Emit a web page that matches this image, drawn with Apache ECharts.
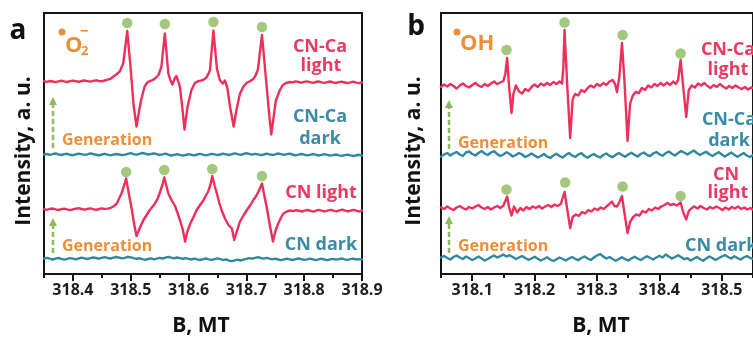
<!DOCTYPE html>
<html>
<head>
<meta charset="utf-8">
<script src="https://cdn.jsdelivr.net/npm/echarts@6/dist/echarts.min.js"></script>
<style>
  html, body { margin: 0; padding: 0; background: #ffffff; }
  #chart { width: 753px; height: 338px; }
</style>
</head>
<body>
<div id="chart"></div>
<script>
// ---------- EPR spectra: (a) DMPO-•O2− adducts, (b) DMPO-•OH adducts ----------

// Field sample grid of the dark (noise-only) sweeps, panel a (mT)
const fieldA = [
  318.350,318.355,318.360,318.365,318.370,318.375,318.380,318.385,318.390,318.395,
  318.400,318.405,318.410,318.415,318.420,318.425,318.430,318.435,318.440,318.445,
  318.450,318.455,318.460,318.465,318.470,318.475,318.480,318.485,318.490,318.495,
  318.500,318.505,318.510,318.515,318.520,318.525,318.530,318.535,318.540,318.545,
  318.550,318.555,318.560,318.565,318.570,318.575,318.580,318.585,318.590,318.595,
  318.600,318.605,318.610,318.615,318.620,318.625,318.630,318.635,318.640,318.645,
  318.650,318.655,318.660,318.665,318.670,318.675,318.680,318.685,318.690,318.695,
  318.700,318.705,318.710,318.715,318.720,318.725,318.730,318.735,318.740,318.745,
  318.750,318.755,318.760,318.765,318.770,318.775,318.780,318.785,318.790,318.795,
  318.800,318.805,318.810,318.815,318.820,318.825,318.830,318.835,318.840,318.845,
  318.850,318.855,318.860,318.865,318.870,318.875,318.880,318.885,318.890,318.895,
  318.900
];

// Field sample grid of the dark sweeps, panel b (mT)
const fieldB = [
  318.050,318.055,318.060,318.065,318.070,318.075,318.080,318.085,318.090,318.095,
  318.100,318.105,318.110,318.115,318.120,318.125,318.130,318.135,318.140,318.145,
  318.150,318.155,318.160,318.165,318.170,318.175,318.180,318.185,318.190,318.195,
  318.200,318.205,318.210,318.215,318.220,318.225,318.230,318.235,318.240,318.245,
  318.250,318.255,318.260,318.265,318.270,318.275,318.280,318.285,318.290,318.295,
  318.300,318.305,318.310,318.315,318.320,318.325,318.330,318.335,318.340,318.345,
  318.350,318.355,318.360,318.365,318.370,318.375,318.380,318.385,318.390,318.395,
  318.400,318.405,318.410,318.415,318.420,318.425,318.430,318.435,318.440,318.445,
  318.450,318.455,318.460,318.465,318.470,318.475,318.480,318.485,318.490,318.495,
  318.500,318.505,318.510,318.515,318.520,318.525,318.530,318.535,318.540,318.545,
  318.550
];

// Panel a — CN-Ca light: [B, intensity]
const caLightA = [
  [318.350,0.3],[318.355,-0.4],[318.360,0.5],[318.365,0.0],[318.370,-0.6],[318.375,0.2],[318.380,0.8],[318.385,0.1],
  [318.390,-0.5],[318.395,0.3],[318.400,0.9],[318.405,0.2],[318.410,-0.3],[318.415,0.5],[318.420,1.0],[318.425,0.4],
  [318.430,-0.2],[318.435,0.6],[318.440,1.2],[318.445,0.5],[318.450,0.2],[318.455,1.0],[318.460,1.8],[318.465,2.6],
  [318.469,4.5],[318.475,7.0],[318.481,10.0],[318.487,18.0],[318.494,50.5],[318.500,12.0],[318.505,-24.0],[318.510,-45.0],
  [318.514,-31.0],[318.518,-18.5],[318.524,-5.0],[318.529,-0.8],[318.533,0.4],[318.538,1.5],[318.543,3.5],[318.548,6.5],
  [318.553,14.5],[318.559,48.0],[318.565,8.0],[318.569,0.5],[318.572,-3.0],[318.576,3.0],[318.579,5.5],[318.582,0.5],
  [318.585,-5.0],[318.589,-25.0],[318.593,-48.0],[318.598,-26.0],[318.605,-8.5],[318.611,-1.5],[318.616,0.3],[318.621,0.8],
  [318.626,1.8],[318.631,4.0],[318.637,11.0],[318.643,51.0],[318.649,13.0],[318.654,1.5],[318.659,-2.0],[318.663,1.0],
  [318.667,-6.0],[318.672,-26.0],[318.678,-45.0],[318.683,-28.0],[318.689,-12.0],[318.695,-5.0],[318.701,-1.0],[318.706,0.2],
  [318.711,2.0],[318.715,5.0],[318.720,12.0],[318.727,46.5],[318.734,2.0],[318.739,-30.0],[318.743,-53.0],[318.747,-36.0],
  [318.751,-19.0],[318.758,-8.5],[318.763,-3.5],[318.769,-1.5],[318.775,-0.5],[318.780,-0.9],[318.785,0.1],[318.790,-0.5],
  [318.795,-1.2],[318.800,-0.4],[318.805,0.2],[318.810,-0.6],[318.815,-1.3],[318.820,-0.5],[318.825,0.1],[318.830,-0.8],
  [318.835,-1.4],[318.840,-0.6],[318.845,0.0],[318.850,-0.9],[318.855,-1.5],[318.860,-0.7],[318.865,-0.1],[318.870,-1.0],
  [318.875,-1.6],[318.880,-0.8],[318.885,-0.2],[318.890,-1.1],[318.895,-1.7],[318.900,-1.0]
];

// Panel a — CN-Ca dark: intensity on fieldA
const caDarkA = [
  0.5, 1.0, 0.2, 0.8, 1.5, 0.6, 0.0, 0.9, 1.2, 0.3,
  -0.2, 0.6, 1.4, 0.8, 0.1, 0.7, 1.6, 1.0, 0.2, -0.3,
  0.5, 1.2, 0.4, -0.4, 0.3, 1.0, 0.5, -0.2, 0.4, 1.1,
  1.8, 0.9, 0.3, 1.2, 2.0, 1.3, 0.5, 1.0, 1.7, 0.8,
  0.0, 0.6, 1.3, 0.4, -0.5, 0.2, 0.9, 0.1, -0.6, 0.0,
  0.8, 0.2, -0.4, 0.5, 1.1, 0.3, -0.3, 0.4, 1.2, 0.6,
  -0.1, 0.5, 1.4, 0.7, 0.0, 0.9, 1.6, 0.8, 0.2, 1.0,
  1.9, 1.1, 0.4, 1.2, 0.6, -0.2, 0.5, 1.3, 0.7, 0.0,
  0.6, 1.5, 0.9, 0.1, 0.8, 1.4, 0.5, -0.3, 0.3, 1.0,
  0.4, -0.4, 0.2, 0.9, 0.3, -0.5, 0.1, 0.8, 0.2, -0.6,
  -0.1, 0.5, -0.3, -0.9, -0.2, 0.4, -0.4, -1.0, -0.3, 0.2,
  -0.5
];

// Panel a — CN light: [B, intensity]
const cnLightA = [
  [318.350,0.4],[318.355,-0.3],[318.360,0.6],[318.365,1.0],[318.370,0.2],[318.375,-0.5],[318.380,0.3],[318.385,0.9],
  [318.390,0.1],[318.395,-0.6],[318.400,0.2],[318.405,0.8],[318.410,1.3],[318.415,0.5],[318.420,-0.2],[318.425,0.6],
  [318.430,1.2],[318.435,0.4],[318.440,-0.3],[318.445,0.5],[318.450,1.1],[318.455,0.6],[318.460,0.9],[318.464,1.2],
  [318.470,3.0],[318.476,6.0],[318.484,16.0],[318.488,23.0],[318.492,31.0],[318.497,15.0],[318.502,-0.5],[318.506,-15.0],
  [318.510,-26.5],[318.516,-18.0],[318.522,-10.5],[318.528,-5.0],[318.533,-0.5],[318.538,3.0],[318.542,6.0],[318.547,11.5],
  [318.551,18.0],[318.555,25.0],[318.558,32.0],[318.562,23.0],[318.565,16.0],[318.571,9.0],[318.577,3.0],[318.581,-3.5],
  [318.585,-10.5],[318.590,-20.0],[318.594,-32.0],[318.598,-22.0],[318.603,-14.0],[318.609,-7.0],[318.614,-0.5],[318.620,4.5],
  [318.626,9.5],[318.630,14.0],[318.634,18.0],[318.638,25.0],[318.641,33.5],[318.645,24.0],[318.649,16.0],[318.653,7.0],
  [318.657,-0.5],[318.663,-9.0],[318.669,-15.5],[318.675,-19.0],[318.679,-30.5],[318.684,-21.0],[318.689,-12.0],[318.695,-6.0],
  [318.701,-0.5],[318.707,4.5],[318.712,9.5],[318.717,13.5],[318.721,18.0],[318.727,26.0],[318.731,14.0],[318.735,3.0],
  [318.741,-17.0],[318.746,-32.0],[318.750,-22.0],[318.755,-14.0],[318.760,-8.0],[318.764,-4.0],[318.770,-2.0],[318.776,-1.0],
  [318.781,-1.6],[318.786,-0.7],[318.791,-1.2],[318.796,-2.0],[318.801,-1.1],[318.806,-0.5],[318.811,-1.4],[318.816,-2.1],
  [318.821,-1.0],[318.826,-0.4],[318.831,-1.3],[318.836,-2.0],[318.841,-0.9],[318.846,-0.3],[318.851,-1.2],[318.856,-1.8],
  [318.861,-0.8],[318.866,-0.2],[318.871,-1.1],[318.876,-1.9],[318.881,-1.0],[318.886,-0.4],[318.891,-1.3],[318.896,-2.0],
  [318.900,-1.1]
];

// Panel a — CN dark: intensity on fieldA
const cnDarkA = [
  0.5, 1.2, 0.3, -0.5, 0.4, 1.0, 0.2, -0.6, 0.1, 0.9,
  0.4, -0.3, 0.6, 1.3, 0.7, 0.0, 0.8, 1.5, 1.0, 0.3,
  1.1, 1.8, 1.2, 0.5, 1.3, 2.0, 1.4, 0.6, 1.2, 2.2,
  1.6, 0.8, 0.2, 0.7, -0.2, -0.8, 0.0, 0.6, -0.3, 0.4,
  1.2, 0.5, 1.4, 2.1, 1.3, 0.6, 1.5, 0.8, 0.1, 0.9,
  0.2, -0.5, 0.3, -0.4, -1.0, -0.2, 0.5, -0.3, -0.9, -0.1,
  0.6, -0.2, -1.1, -0.4, -1.6, -2.2, -1.3, -0.6, -1.5, -0.7,
  0.2, 0.9, 0.3, 1.2, 1.8, 1.0, 0.4, 1.1, 0.3, -0.4,
  0.3, -0.5, -1.2, -0.4, 0.4, -0.3, -1.0, -0.2, 0.5, -0.2,
  -0.9, -0.3, 0.4, -0.4, -1.1, -0.3, 0.3, -0.5, -1.2, -0.4,
  0.2, -0.6, -0.1, 0.5, -0.3, -0.9, -0.2, 0.4, -0.5, -0.1,
  -0.4
];

// Panel b — CN-Ca light: [B, intensity]
const caLightB = [
  [318.050,-1.0],[318.055,1.5],[318.060,-0.5],[318.065,2.0],[318.070,0.0],[318.075,-2.5],[318.080,0.5],[318.085,2.5],
  [318.090,0.0],[318.095,-1.5],[318.100,1.0],[318.105,3.0],[318.110,0.5],[318.115,-1.0],[318.120,2.0],[318.125,0.0],
  [318.130,2.5],[318.135,4.5],[318.140,2.0],[318.145,3.5],[318.150,5.0],[318.153,12.0],[318.156,28.0],[318.159,0.0],
  [318.163,-27.0],[318.166,-8.0],[318.170,0.5],[318.175,-5.5],[318.180,-7.5],[318.185,-3.0],[318.190,-5.0],[318.195,-1.0],
  [318.200,1.5],[318.205,-1.0],[318.210,2.5],[318.215,0.5],[318.220,3.0],[318.225,1.0],[318.230,4.0],[318.235,2.0],
  [318.240,4.5],[318.244,2.5],[318.246,18.0],[318.248,56.0],[318.252,4.0],[318.257,-52.0],[318.261,-13.0],[318.265,-8.0],
  [318.270,-9.5],[318.275,-4.0],[318.280,-6.0],[318.285,-2.0],[318.290,0.5],[318.295,-1.5],[318.300,2.0],[318.305,0.0],
  [318.310,3.0],[318.315,1.0],[318.320,4.5],[318.325,6.0],[318.329,2.0],[318.332,-6.0],[318.336,10.0],[318.340,43.0],
  [318.344,5.0],[318.349,-55.0],[318.353,-18.0],[318.357,-10.0],[318.362,-6.0],[318.367,-7.0],[318.372,-2.0],[318.377,-4.0],
  [318.382,0.5],[318.387,-1.5],[318.392,2.0],[318.397,0.0],[318.402,3.0],[318.407,0.5],[318.412,3.5],[318.417,1.0],
  [318.422,4.5],[318.426,2.0],[318.430,6.0],[318.434,26.0],[318.438,0.0],[318.443,-31.0],[318.447,-4.0],[318.452,0.5],
  [318.457,-1.5],[318.462,2.5],[318.467,0.5],[318.472,3.0],[318.477,0.0],[318.482,-2.0],[318.487,1.0],[318.492,-1.0],
  [318.497,2.0],[318.502,-0.5],[318.507,-2.5],[318.512,0.0],[318.517,-2.0],[318.522,0.5],[318.527,-1.5],[318.532,-3.0],
  [318.537,-1.0],[318.542,-3.5],[318.547,-1.5],[318.552,-2.5]
];

// Panel b — CN-Ca dark: intensity on fieldB
const caDarkB = [
  -1.5, 0.5, 2.0, -0.5, 1.5, 3.0, 0.5, -1.0, 2.5, 3.5,
  1.0, -0.5, 2.0, 4.0, 1.5, 0.0, 2.5, 3.8, 1.0, -1.0,
  0.5, 2.8, 1.0, -1.5, 0.0, 2.0, 0.5, -2.0, -0.5, 1.5,
  -0.5, -2.5, -1.0, 1.0, -1.5, -3.0, -0.5, 1.2, -1.0, -2.5,
  0.0, 2.0, -0.5, -2.0, 0.5, 1.8, -1.0, -2.8, -0.5, 1.0,
  -1.2, -2.5, 0.0, 1.5, -0.8, -2.2, 0.2, 2.0, 0.0, -1.8,
  0.5, 2.2, 0.3, -1.5, 1.0, 2.5, 0.2, -1.2, 1.5, 3.0,
  0.8, -0.8, 1.8, 3.5, 1.2, -0.5, 2.0, 4.0, 2.2, 0.5,
  2.5, 4.5, 2.0, 0.0, 1.8, 3.2, 0.8, -1.0, 1.0, 2.8,
  0.5, -1.5, 0.5, 2.5, 0.2, -1.8, 0.0, 2.0, -0.5, -2.0,
  0.0
];

// Panel b — CN light: [B, intensity]
const cnLightB = [
  [318.050,0.5],[318.055,-1.0],[318.060,1.5],[318.065,-0.5],[318.070,-2.0],[318.075,0.5],[318.080,2.0],[318.085,0.0],
  [318.090,-1.5],[318.095,1.0],[318.100,-0.5],[318.105,1.5],[318.110,3.0],[318.115,0.5],[318.120,-1.0],[318.125,1.0],
  [318.130,-1.5],[318.135,0.5],[318.140,2.0],[318.145,0.0],[318.150,2.5],[318.153,4.0],[318.156,11.5],[318.159,1.0],
  [318.163,-7.5],[318.167,1.5],[318.172,-4.5],[318.177,0.0],[318.182,-2.5],[318.187,1.0],[318.192,-1.0],[318.197,1.5],
  [318.202,0.0],[318.207,2.0],[318.212,-0.5],[318.217,1.5],[318.222,3.0],[318.227,1.0],[318.232,3.5],[318.237,2.0],
  [318.242,4.0],[318.245,6.0],[318.248,16.0],[318.252,0.0],[318.257,-20.0],[318.261,-9.0],[318.266,-6.5],[318.271,-8.0],
  [318.276,-4.0],[318.281,-5.5],[318.286,-2.0],[318.291,-3.5],[318.296,-0.5],[318.301,-2.0],[318.306,0.5],[318.311,-1.0],
  [318.316,2.0],[318.320,4.0],[318.324,6.5],[318.328,2.0],[318.332,1.5],[318.336,6.0],[318.340,12.0],[318.344,-5.0],
  [318.349,-25.0],[318.353,-14.0],[318.358,-9.0],[318.363,-6.5],[318.368,-7.5],[318.373,-3.0],[318.378,-4.5],[318.383,-1.0],
  [318.388,-2.5],[318.393,0.5],[318.398,-1.0],[318.403,1.5],[318.408,3.0],[318.413,5.0],[318.418,3.0],[318.423,4.0],
  [318.428,2.5],[318.431,3.5],[318.434,5.5],[318.438,-4.0],[318.443,-11.5],[318.447,-3.0],[318.451,-0.5],[318.456,1.5],
  [318.461,-0.5],[318.466,2.0],[318.471,0.0],[318.476,-1.5],[318.481,1.0],[318.486,-0.5],[318.491,1.5],[318.496,0.0],
  [318.501,-2.0],[318.506,0.5],[318.511,-1.5],[318.516,1.0],[318.521,-0.5],[318.526,1.5],[318.531,-1.0],[318.536,0.5],
  [318.541,-1.5],[318.546,0.0],[318.551,-2.0]
];

// Panel b — CN dark: intensity on fieldB
const cnDarkB = [
  0.5, 2.0, 0.0, -1.5, 1.0, 2.5, 0.5, -1.0, 1.5, 0.0,
  -2.0, -0.5, 1.5, -0.5, -2.5, -1.0, 1.0, 2.5, 0.5, 1.8,
  3.5, 1.5, 2.8, 1.0, -1.0, 0.5, 2.0, 0.0, -1.8, -0.5,
  1.2, -0.8, -2.5, -1.0, 0.8, -1.5, -3.0, -1.2, 0.5, -1.0,
  -2.5, -0.5, 1.0, -0.8, -2.2, 0.0, 1.5, -0.5, -2.0, 0.5,
  2.5, 4.0, 1.5, -0.5, 1.0, -1.0, -2.8, -1.0, 0.8, -1.2,
  -2.5, -0.5, 1.2, -0.5, -2.0, 0.0, 1.8, 0.2, -1.5, 0.5,
  2.2, 0.5, 3.5, 1.5, -0.5, 1.0, 2.8, 0.8, -1.2, -0.2,
  -2.5, -0.8, 1.0, -1.0, -2.8, -0.5, 1.5, 0.0, -2.0, -0.2,
  1.5, 3.0, 1.0, -0.5, 1.8, 0.0, -1.5, 0.5, 2.0, 0.2,
  -1.0
];

// Peak markers (green dots) above each adduct line: [B, intensity]
const peaksCaLightA = [[318.494, 58.5], [318.559, 57.5], [318.643, 59.5], [318.727, 54.5]];
const peaksCnLightA = [[318.492, 37.5], [318.558, 39.5], [318.641, 40.5], [318.727, 33.5]];
const peaksCaLightB = [[318.155, 36.0], [318.248, 63.5], [318.341, 51.0], [318.434, 32.5]];
const peaksCnLightB = [[318.155, 18.5], [318.249, 25.5], [318.341, 21.5], [318.434, 12.0]];

// Axis ticks (mT)
const labelTicksA = [318.4, 318.5, 318.6, 318.7, 318.8, 318.9];
const minorTicksA = [318.35, 318.45, 318.55, 318.65, 318.75, 318.85];
const labelTicksB = [318.1, 318.2, 318.3, 318.4, 318.5];
const minorTicksB = [318.05, 318.15, 318.25, 318.35, 318.45, 318.55];

// ---------- layout & style ----------
const RED = '#ee2f5c';
const TEAL = '#2f87a0';
const GREEN = '#8cba5c';
const ORANGE = '#ef8e38';
const RED_TXT = '#e93a62';
const TEAL_TXT = '#3b8ba3';
const INK = '#151515';
const FONT = '"Open Sans", "Noto Sans", sans-serif';

// vertical stacking offsets of each sweep (axis units)
const stackA = { caLight: 192.5, caDark: 119, cnLight: 64.5, cnDark: 15 };
const stackB = { caLight: 188, caDark: 119, cnLight: 66, cnDark: 16 };

const shift = (pairs, off) => pairs.map(p => [p[0], p[1] + off]);
const onField = (field, vals, off) => field.map((b, i) => [b, vals[i] + off]);

function mainX(gridIndex, min, max, ticks) {
  return {
    type: 'value', gridIndex, min, max, position: 'bottom',
    axisLine: { show: true, onZero: false, lineStyle: { color: INK, width: 2 } },
    axisTick: { show: true, customValues: ticks, length: 7, lineStyle: { color: INK, width: 2 } },
    axisLabel: {
      show: true, customValues: ticks, formatter: v => v.toFixed(1), margin: 8,
      color: '#1e1e1e', fontSize: 16, fontWeight: 'bold', fontFamily: FONT
    },
    splitLine: { show: false }
  };
}
function minorX(gridIndex, min, max, ticks) {
  return {
    type: 'value', gridIndex, min, max, position: 'bottom',
    axisLine: { show: false },
    axisTick: { show: true, customValues: ticks, length: 4, lineStyle: { color: INK, width: 2 } },
    axisLabel: { show: false },
    splitLine: { show: false }
  };
}
function plainY(gridIndex) {
  return {
    type: 'value', gridIndex, min: 0, max: 261,
    axisLine: { show: true, onZero: false, lineStyle: { color: INK, width: 2 } },
    axisTick: { show: false }, axisLabel: { show: false }, splitLine: { show: false }
  };
}
function trace(xi, data, color) {
  return {
    type: 'line', xAxisIndex: xi, yAxisIndex: xi, data, symbol: 'none',
    lineStyle: { color, width: 2.4, join: 'round', cap: 'round' }, silent: true, z: 3
  };
}
function dots(xi, data) {
  return {
    type: 'scatter', xAxisIndex: xi, yAxisIndex: xi, data, symbolSize: 10.5,
    itemStyle: { color: GREEN }, silent: true, z: 4
  };
}

function txt(text, x, y, fill, size, align) {
  return {
    type: 'text', x, y, z: 10,
    style: {
      text, fill, font: 'bold ' + size + 'px ' + FONT,
      textAlign: align || 'center', verticalAlign: 'middle'
    }
  };
}
function arrow(x, yTop, yBottom) {
  return [
    { type: 'line', z: 10, shape: { x1: x, y1: yBottom, x2: x, y2: yTop + 6 },
      style: { stroke: GREEN, lineWidth: 2.5, lineDash: [5, 3] } },
    { type: 'polygon', z: 10, shape: { points: [[x - 4, yTop + 8], [x + 4, yTop + 8], [x, yTop]] },
      style: { fill: GREEN } }
  ];
}

const graphics = [
  // panel letters
  txt('a', 18, 31, '#111', 28),
  txt('b', 416, 27, '#111', 28),
  // y titles
  { type: 'text', x: 24, y: 151, rotation: Math.PI / 2, z: 10,
    style: { text: 'Intensity, a. u.', fill: '#111', font: 'bold 21px ' + FONT, textAlign: 'center', verticalAlign: 'middle' } },
  { type: 'text', x: 414, y: 151, rotation: Math.PI / 2, z: 10,
    style: { text: 'Intensity, a. u.', fill: '#111', font: 'bold 21px ' + FONT, textAlign: 'center', verticalAlign: 'middle' } },
  // x titles
  txt('B, MT', 201, 326, '#111', 21),
  txt('B, MT', 601, 326, '#111', 21),
  // radical species: •O2−
  { type: 'circle', z: 10, shape: { cx: 62, cy: 32, r: 3.5 }, style: { fill: ORANGE } },
  txt('O', 65, 46, ORANGE, 22, 'left'),
  txt('2', 81, 51, ORANGE, 13, 'left'),
  txt('\u2212', 80, 32, ORANGE, 15, 'left'),
  // radical species: •OH
  { type: 'circle', z: 10, shape: { cx: 457, cy: 32, r: 3.5 }, style: { fill: ORANGE } },
  txt('OH', 460, 44, ORANGE, 22, 'left'),
  // sample labels, panel a
  txt('CN-Ca', 320, 47, RED_TXT, 18), txt('light', 321, 66, RED_TXT, 18),
  txt('CN-Ca', 320, 117, TEAL_TXT, 18), txt('dark', 320, 139, TEAL_TXT, 18),
  txt('CN light', 321, 193, RED_TXT, 18),
  txt('CN dark', 321, 245, TEAL_TXT, 18),
  // sample labels, panel b
  txt('CN-Ca', 728, 50, RED_TXT, 18), txt('light', 728, 70, RED_TXT, 18),
  txt('CN-Ca', 729, 120, TEAL_TXT, 18), txt('dark', 729, 141, TEAL_TXT, 18),
  txt('CN', 726, 175, RED_TXT, 18), txt('light', 728, 193, RED_TXT, 18),
  txt('CN dark', 685, 246, TEAL_TXT, 18, 'left'),
  // "Generation" notes with dashed arrows
  txt('Generation', 62, 140, ORANGE, 16, 'left'),
  txt('Generation', 62, 246, ORANGE, 16, 'left'),
  txt('Generation', 458, 143, ORANGE, 16, 'left'),
  txt('Generation', 458, 246, ORANGE, 16, 'left'),
  ...arrow(53, 97, 148),
  ...arrow(53, 218, 253),
  ...arrow(449, 100, 149),
  ...arrow(449, 216, 253)
];

const option = {
  animation: false,
  backgroundColor: '#ffffff',
  grid: [
    { left: 44, top: 13, width: 318, height: 261, show: true, borderColor: INK, borderWidth: 2, backgroundColor: 'transparent' },
    { left: 441, top: 13, width: 320.75, height: 261, show: true, borderColor: INK, borderWidth: 2, backgroundColor: 'transparent' }
  ],
  xAxis: [
    mainX(0, 318.35, 318.9, labelTicksA),
    mainX(1, 318.05, 318.55, labelTicksB),
    minorX(0, 318.35, 318.9, minorTicksA),
    minorX(1, 318.05, 318.55, minorTicksB)
  ],
  yAxis: [plainY(0), plainY(1)],
  series: [
    trace(0, shift(caLightA, stackA.caLight), RED),
    trace(0, onField(fieldA, caDarkA, stackA.caDark), TEAL),
    trace(0, shift(cnLightA, stackA.cnLight), RED),
    trace(0, onField(fieldA, cnDarkA, stackA.cnDark), TEAL),
    dots(0, shift(peaksCaLightA, stackA.caLight)),
    dots(0, shift(peaksCnLightA, stackA.cnLight)),
    trace(1, shift(caLightB, stackB.caLight), RED),
    trace(1, onField(fieldB, caDarkB, stackB.caDark), TEAL),
    trace(1, shift(cnLightB, stackB.cnLight), RED),
    trace(1, onField(fieldB, cnDarkB, stackB.cnDark), TEAL),
    dots(1, shift(peaksCaLightB, stackB.caLight)),
    dots(1, shift(peaksCnLightB, stackB.cnLight))
  ],
  graphic: graphics
};

const chart = echarts.init(document.getElementById('chart'), null, { renderer: 'canvas' });
chart.setOption(option);
</script>
</body>
</html>
